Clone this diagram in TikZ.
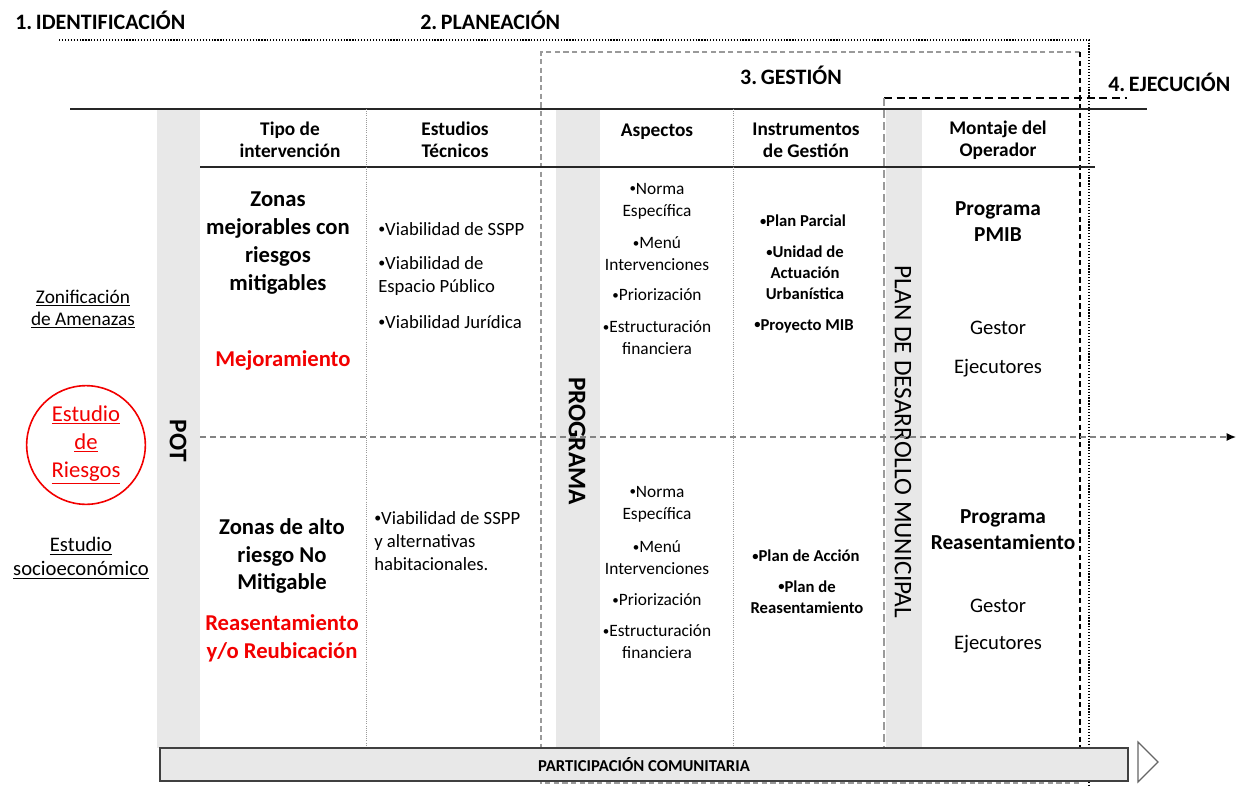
\documentclass[tikz,border=0pt]{standalone}
\usepackage{fontspec}
\setmainfont{Carlito}
\usetikzlibrary{arrows.meta}
\definecolor{banda}{HTML}{E8E8E8}
\definecolor{rayagris}{HTML}{9A9A9A}
\definecolor{rojo}{HTML}{F20000}
\newcommand{\bul}{\raisebox{0.1em}{\scalebox{0.75}{•}}}
\tikzset{
  fase/.style={font=\fontsize{16.5}{20}\selectfont\bfseries, inner sep=0},
  hd/.style={font=\fontsize{14.5}{16.5}\selectfont\bfseries, align=center, inner sep=0},
  zona/.style={font=\fontsize{17}{20.8}\selectfont\bfseries, align=center, inner sep=0},
  accion/.style={zona, text=rojo},
  item/.style={font=\fontsize{14}{17.2}\selectfont, align=left, anchor=west, inner sep=0},
  asp/.style={font=\fontsize{13}{16.5}\selectfont, align=center, inner sep=0},
  inst/.style={font=\fontsize{12.5}{15.6}\selectfont\bfseries, align=center, inner sep=0},
  prog/.style={font=\fontsize{16}{19.5}\selectfont\bfseries, align=center, inner sep=0},
  oper/.style={font=\fontsize{15.5}{18}\selectfont, inner sep=0},
  vert/.style={rotate=-90, font=\fontsize{19}{22}\selectfont\bfseries, inner sep=0},
  fuente/.style={align=center, inner sep=0},
  divisor/.style={rayagris, line width=0.6pt, densely dotted},
}
\begin{document}
\begin{tikzpicture}[x=0.75pt,y=-0.75pt]
  \useasboundingbox (0,0) rectangle (1236,789);

  \fill[banda] (157,109) rectangle (200,748);
  \fill[banda] (556,109) rectangle (600,748);
  \fill[banda] (886,109) rectangle (922,748);

  \draw[line width=0.9pt, dash pattern=on 0.9pt off 1.3pt] (59,40) -- (1089,40) -- (1089,786);
  \draw[rayagris, line width=1pt, dash pattern=on 4pt off 2.5pt] (1080,52) -- (541,52) -- (541,783) -- (1080,783);
  \draw[line width=1.2pt, dash pattern=on 4pt off 2.5pt] (1080,52) -- (1080,748);
  \draw[line width=1.2pt, dash pattern=on 6pt off 3.5pt] (884,98) -- (1127,98);
  \draw[rayagris, line width=1pt, dash pattern=on 6pt off 3pt] (884,98) -- (884,748);
  \draw[black!85, line width=1pt] (70,109) -- (1147,109);
  \draw[black!85, line width=1pt] (200,167) -- (1095,167);
  \draw[divisor] (366,109) -- (366,748);
  \draw[divisor] (733,109) -- (733,748);

  \node[fase, anchor=west] (I) at (15,20) {1.\,IDENTIFICACIÓN};
  \node[fase, anchor=west] (P) at (420,20) {2.\,PLANEACIÓN};
  \node[fase] (G) at (791,75) {3.\,GESTIÓN};
  \node[fase, anchor=west] (E) at (1108,82) {4.\,EJECUCIÓN};

  \node[hd] (H1) at (290,140) {Tipo de\\intervención};
  \node[hd] (H2) at (455,140) {Estudios\\Técnicos};
  \node[hd] (H3) at (657,132) {Aspectos};
  \node[hd] (H4) at (806,140) {Instrumentos\\de Gestión};
  \node[hd] (H5) at (998,140) {Montaje del\\Operador};

  \node[vert] (POT) at (178,441) {POT};
  \node[vert] (PR) at (577,441) {PROGRAMA};
  \node[vert, font=\fontsize{19}{22}\selectfont] (PD) at (903,442) {PLAN DE DESARROLLO MUNICIPAL};

  \coordinate (C0) at (200,437);
  \coordinate (C1) at (1236,437);
  \draw[rayagris!85!black, line width=1pt, dash pattern=on 4.5pt off 3pt,
        -{Latex[black, length=7pt, width=6pt]}] (C0) -- (C1);

  \node[fuente, font=\fontsize{14.5}{16.5}\selectfont] (Z) at (83,309)
    {\underline{Zonificación}\\\underline{de Amenazas}};
  \node[circle, draw=rojo, line width=1.2pt, minimum size=89pt, inner sep=0,
        align=center, text=rojo, font=\fontsize{17}{21}\selectfont] (R) at (86,445)
    {\underline{Estudio}\\\underline{de}\\\underline{Riesgos}};
  \node[fuente, font=\fontsize{15.5}{18}\selectfont] (S) at (81,558)
    {\underline{Estudio}\\\underline{socioeconómico}};

  \node[zona] (M1) at (278,243) {Zonas\\mejorables con\\riesgos\\mitigables};
  \node[accion] (M2) at (283,360) {Mejoramiento};
  \node[zona] (N1) at (282,556) {Zonas de alto\\riesgo No\\Mitigable};
  \node[accion] (N2) at (282,638) {Reasentamiento\\y/o Reubicación};

  \node[item] (T1) at (378,229) {\bul Viabilidad de SSPP};
  \node[item] (T2) at (378,276) {\bul Viabilidad de\\Espacio Público};
  \node[item] (T3) at (378,322) {\bul Viabilidad Jurídica};
  \node[item] (T4) at (374,541) {\bul Viabilidad de SSPP\\y alternativas\\habitacionales.};

  \node[asp] (A1) at (657,201) {\bul Norma\\Específica};
  \node[asp] (A2) at (657,254) {\bul Menú\\Intervenciones};
  \node[asp] (A3) at (657,295) {\bul Priorización};
  \node[asp] (A4) at (657,338) {\bul Estructuración\\financiera};
  \node[asp] (B1) at (657,504) {\bul Norma\\Específica};
  \node[asp] (B2) at (657,558) {\bul Menú\\Intervenciones};
  \node[asp] (B3) at (657,600) {\bul Priorización};
  \node[asp] (B4) at (657,642) {\bul Estructuración\\financiera};

  \node[inst] (U1) at (803,221) {\bul Plan Parcial};
  \node[inst] (U2) at (805,273) {\bul Unidad de\\Actuación\\Urbanística};
  \node[inst] (U3) at (804,326) {\bul Proyecto MIB};
  \node[inst] (V1) at (806,556) {\bul Plan de Acción};
  \node[inst] (V2) at (807,597) {\bul Plan de\\Reasentamiento};

  \node[prog] (O1) at (998,222) {Programa\\PMIB};
  \node[oper] (O2) at (998,328) {Gestor};
  \node[oper] (O3) at (998,368) {Ejecutores};
  \node[prog] (Q1) at (1003,530) {Programa\\Reasentamiento};
  \node[oper] (Q2) at (998,606) {Gestor};
  \node[oper] (Q3) at (998,644) {Ejecutores};

  \node[draw=black!75, line width=1.1pt, fill=banda, minimum width=726pt, minimum height=24.5pt,
        inner sep=0, font=\fontsize{12.5}{14}\selectfont\bfseries] (PC) at (644,764.5)
    {PARTICIPACIÓN COMUNITARIA};
  \draw[black!60, fill=white, line width=0.9pt] (1138,742) -- (1158,762) -- (1138,782) -- cycle;
\end{tikzpicture}
\end{document}
